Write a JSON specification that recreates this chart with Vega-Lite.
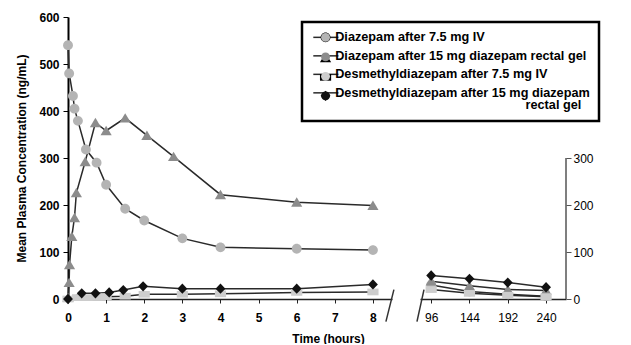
{
  "$schema": "https://vega.github.io/schema/vega-lite/v6.json",
  "background": "white",
  "padding": {"left": 15, "top": 11, "right": 5, "bottom": 0},
  "config": {
    "view": {"stroke": null},
    "font": "Liberation Sans",
    "axis": {"labelFont": "Liberation Sans", "titleFont": "Liberation Sans", "labelColor": "#000", "titleColor": "#000", "grid": false, "domainColor": "#222", "tickColor": "#222", "labelFontSize": 12, "titleFontSize": 12}
  },
  "datasets": {
    "pk": [
      {"s": "Diazepam after 7.5 mg IV", "t": 0, "c": 540},
      {"s": "Diazepam after 7.5 mg IV", "t": 0.03, "c": 480},
      {"s": "Diazepam after 7.5 mg IV", "t": 0.13, "c": 432},
      {"s": "Diazepam after 7.5 mg IV", "t": 0.17, "c": 405},
      {"s": "Diazepam after 7.5 mg IV", "t": 0.26, "c": 379},
      {"s": "Diazepam after 7.5 mg IV", "t": 0.47, "c": 318},
      {"s": "Diazepam after 7.5 mg IV", "t": 0.75, "c": 290},
      {"s": "Diazepam after 7.5 mg IV", "t": 1, "c": 243},
      {"s": "Diazepam after 7.5 mg IV", "t": 1.5, "c": 192},
      {"s": "Diazepam after 7.5 mg IV", "t": 2, "c": 167},
      {"s": "Diazepam after 7.5 mg IV", "t": 3, "c": 129},
      {"s": "Diazepam after 7.5 mg IV", "t": 4, "c": 110},
      {"s": "Diazepam after 7.5 mg IV", "t": 6, "c": 107},
      {"s": "Diazepam after 7.5 mg IV", "t": 8, "c": 104},
      {"s": "Diazepam after 7.5 mg IV", "t": 96, "c": 30},
      {"s": "Diazepam after 7.5 mg IV", "t": 144, "c": 16},
      {"s": "Diazepam after 7.5 mg IV", "t": 192, "c": 10},
      {"s": "Diazepam after 7.5 mg IV", "t": 240, "c": 6},
      {"s": "Diazepam after 15 mg diazepam rectal gel", "t": 0, "c": 3},
      {"s": "Diazepam after 15 mg diazepam rectal gel", "t": 0.03, "c": 35},
      {"s": "Diazepam after 15 mg diazepam rectal gel", "t": 0.04, "c": 73},
      {"s": "Diazepam after 15 mg diazepam rectal gel", "t": 0.1, "c": 133},
      {"s": "Diazepam after 15 mg diazepam rectal gel", "t": 0.17, "c": 173},
      {"s": "Diazepam after 15 mg diazepam rectal gel", "t": 0.22, "c": 226},
      {"s": "Diazepam after 15 mg diazepam rectal gel", "t": 0.45, "c": 292},
      {"s": "Diazepam after 15 mg diazepam rectal gel", "t": 0.72, "c": 375},
      {"s": "Diazepam after 15 mg diazepam rectal gel", "t": 1, "c": 358},
      {"s": "Diazepam after 15 mg diazepam rectal gel", "t": 1.5, "c": 385},
      {"s": "Diazepam after 15 mg diazepam rectal gel", "t": 2.07, "c": 348},
      {"s": "Diazepam after 15 mg diazepam rectal gel", "t": 2.77, "c": 303},
      {"s": "Diazepam after 15 mg diazepam rectal gel", "t": 4, "c": 222},
      {"s": "Diazepam after 15 mg diazepam rectal gel", "t": 6, "c": 206},
      {"s": "Diazepam after 15 mg diazepam rectal gel", "t": 8, "c": 199},
      {"s": "Diazepam after 15 mg diazepam rectal gel", "t": 96, "c": 38},
      {"s": "Diazepam after 15 mg diazepam rectal gel", "t": 144, "c": 28},
      {"s": "Diazepam after 15 mg diazepam rectal gel", "t": 192, "c": 20},
      {"s": "Diazepam after 15 mg diazepam rectal gel", "t": 240, "c": 18},
      {"s": "Desmethyldiazepam after 7.5 mg IV", "t": 0, "c": 0},
      {"s": "Desmethyldiazepam after 7.5 mg IV", "t": 0.25, "c": 3},
      {"s": "Desmethyldiazepam after 7.5 mg IV", "t": 0.5, "c": 3},
      {"s": "Desmethyldiazepam after 7.5 mg IV", "t": 0.75, "c": 4},
      {"s": "Desmethyldiazepam after 7.5 mg IV", "t": 1, "c": 5},
      {"s": "Desmethyldiazepam after 7.5 mg IV", "t": 1.5, "c": 6},
      {"s": "Desmethyldiazepam after 7.5 mg IV", "t": 2, "c": 10},
      {"s": "Desmethyldiazepam after 7.5 mg IV", "t": 3, "c": 10},
      {"s": "Desmethyldiazepam after 7.5 mg IV", "t": 4, "c": 11},
      {"s": "Desmethyldiazepam after 7.5 mg IV", "t": 6, "c": 14},
      {"s": "Desmethyldiazepam after 7.5 mg IV", "t": 8, "c": 15},
      {"s": "Desmethyldiazepam after 7.5 mg IV", "t": 96, "c": 20},
      {"s": "Desmethyldiazepam after 7.5 mg IV", "t": 144, "c": 12},
      {"s": "Desmethyldiazepam after 7.5 mg IV", "t": 192, "c": 8},
      {"s": "Desmethyldiazepam after 7.5 mg IV", "t": 240, "c": 5},
      {"s": "Desmethyldiazepam after 15 mg diazepam rectal gel", "t": 0, "c": 0},
      {"s": "Desmethyldiazepam after 15 mg diazepam rectal gel", "t": 0.36, "c": 12},
      {"s": "Desmethyldiazepam after 15 mg diazepam rectal gel", "t": 0.72, "c": 12},
      {"s": "Desmethyldiazepam after 15 mg diazepam rectal gel", "t": 1.08, "c": 14},
      {"s": "Desmethyldiazepam after 15 mg diazepam rectal gel", "t": 1.45, "c": 19},
      {"s": "Desmethyldiazepam after 15 mg diazepam rectal gel", "t": 1.97, "c": 27},
      {"s": "Desmethyldiazepam after 15 mg diazepam rectal gel", "t": 3, "c": 22},
      {"s": "Desmethyldiazepam after 15 mg diazepam rectal gel", "t": 4, "c": 22},
      {"s": "Desmethyldiazepam after 15 mg diazepam rectal gel", "t": 6, "c": 22},
      {"s": "Desmethyldiazepam after 15 mg diazepam rectal gel", "t": 8, "c": 31},
      {"s": "Desmethyldiazepam after 15 mg diazepam rectal gel", "t": 96, "c": 50},
      {"s": "Desmethyldiazepam after 15 mg diazepam rectal gel", "t": 144, "c": 43},
      {"s": "Desmethyldiazepam after 15 mg diazepam rectal gel", "t": 192, "c": 35},
      {"s": "Desmethyldiazepam after 15 mg diazepam rectal gel", "t": 240, "c": 25}
    ]
  },
  "spacing": 28,
  "bounds": "flush",
  "hconcat": [
    {
      "width": 324,
      "height": 282,
      "layer": [
        {
          "data": {"name": "pk"},
          "transform": [{"filter": "datum.t <= 8"}],
          "mark": {"type": "line", "strokeWidth": 1.5},
          "encoding": {
            "x": {"field": "t", "type": "quantitative", "scale": {"domain": [0, 8.5], "nice": false},
              "axis": {"values": [0, 1, 2, 3, 4, 5, 6, 7, 8], "title": "Time (hours)", "titleFontWeight": "bold", "titleX": 260, "titleY": 34, "titleBaseline": "top", "labelFontWeight": "bold", "tickSize": 4, "labelPadding": 9, "domainWidth": 1.5, "labelFlush": false}},
            "y": {"field": "c", "type": "quantitative", "scale": {"domain": [0, 600], "nice": false},
              "axis": {"values": [0, 100, 200, 300, 400, 500, 600], "title": "Mean Plasma Concentration (ng/mL)", "titleFontWeight": "bold", "labelFontWeight": "bold", "tickSize": 5, "labelPadding": 4, "titlePadding": 10, "domainColor": "#000", "domainWidth": 2, "tickColor": "#000", "labelFlush": false}},
            "stroke": {"field": "s", "type": "nominal",
              "scale": {"domain": ["Diazepam after 7.5 mg IV", "Diazepam after 15 mg diazepam rectal gel", "Desmethyldiazepam after 7.5 mg IV", "Desmethyldiazepam after 15 mg diazepam rectal gel"], "range": ["#2a2a2a", "#2a2a2a", "#2a2a2a", "#2a2a2a"]},
              "legend": {"orient": "none", "legendX": 234, "legendY": 5, "title": null, "symbolType": "M-3,0H3", "symbolSize": 70, "symbolStrokeWidth": 1.5, "symbolOffset": 8.5, "strokeColor": "#000", "padding": 9, "labelFont": "Liberation Sans", "labelFontSize": 12.7, "labelFontWeight": "bold", "labelColor": "#000", "labelLimit": 400, "labelOffset": 3, "rowPadding": 4.5, "labelBaseline": "alphabetic",
                "labelExpr": "datum.label == 'Desmethyldiazepam after 15 mg diazepam rectal gel' ? ['Desmethyldiazepam after 15 mg diazepam', '\u200b\u00a0\u00a0\u00a0\u00a0\u00a0\u00a0\u00a0\u00a0\u00a0\u00a0\u00a0\u00a0\u00a0\u00a0\u00a0\u00a0\u00a0\u00a0\u00a0\u00a0\u00a0\u00a0\u00a0\u00a0\u00a0\u00a0\u00a0\u00a0\u00a0\u00a0\u00a0\u00a0\u00a0\u00a0\u00a0\u00a0\u00a0\u00a0\u00a0\u00a0\u00a0\u00a0\u00a0\u00a0\u00a0\u00a0\u00a0\u00a0\u00a0\u00a0\u00a0\u00a0\u00a0\u00a0rectal gel'] : datum.label",
                "encode": {"labels": {"update": {"dy": {"value": 4}, "lineHeight": {"value": 12}}}, "legend": {"update": {"strokeWidth": {"value": 2.5}}}}}}
          }
        },
        {
          "data": {"name": "pk"},
          "transform": [{"filter": "datum.t <= 8"}],
          "mark": {"type": "point", "filled": true, "size": 80, "opacity": 1, "strokeWidth": 0},
          "encoding": {
            "x": {"field": "t", "type": "quantitative"},
            "y": {"field": "c", "type": "quantitative"},
            "fill": {"field": "s", "type": "nominal", "sort": ["Diazepam after 7.5 mg IV", "Diazepam after 15 mg diazepam rectal gel", "Desmethyldiazepam after 7.5 mg IV", "Desmethyldiazepam after 15 mg diazepam rectal gel"],
              "scale": {"range": ["#b4b4b4", "#8c8c8c", "#cdcdcd", "#111111"]},
              "legend": {"orient": "none", "legendX": 234, "legendY": 5, "title": null, "symbolSize": 80, "symbolStrokeWidth": 0, "symbolOffset": 8.2, "padding": 9, "labelFont": "Liberation Sans", "labelFontSize": 12.7, "labelFontWeight": "bold", "labelOpacity": 0, "labelLimit": 400, "labelOffset": 3, "rowPadding": 4.5, "labelBaseline": "alphabetic", "encode": {"labels": {"update": {"dy": {"value": 4}}}}}},
            "shape": {"field": "s", "type": "nominal", "sort": ["Diazepam after 7.5 mg IV", "Diazepam after 15 mg diazepam rectal gel", "Desmethyldiazepam after 7.5 mg IV", "Desmethyldiazepam after 15 mg diazepam rectal gel"],
              "scale": {"range": ["M1.1,0A1.1,1.1,0,1,1,-1.1,0A1.1,1.1,0,1,1,1.1,0Z", "M0,-1.1L1.25,1L-1.25,1Z", "M-1.25,-0.75H1.25V0.75H-1.25Z", "M0,-1.15L1.1,0L0,1.15L-1.1,0Z"]},
              "legend": {"orient": "none", "legendX": 234, "legendY": 5, "title": null, "symbolSize": 80, "symbolStrokeWidth": 0, "symbolOffset": 8.2, "padding": 9, "labelFont": "Liberation Sans", "labelFontSize": 12.7, "labelFontWeight": "bold", "labelOpacity": 0, "labelLimit": 400, "labelOffset": 3, "rowPadding": 4.5, "labelBaseline": "alphabetic", "encode": {"labels": {"update": {"dy": {"value": 4}}}}}}
          }
        },
        {
          "data": {"values": [{}]},
          "mark": {"type": "rule", "color": "#333", "strokeWidth": 1.5, "clip": false},
          "encoding": {"x": {"datum": 8.34}, "x2": {"datum": 8.55}, "y": {"datum": -48}, "y2": {"datum": 20}}
        }
      ]
    },
    {
      "width": 146,
      "height": 282,
      "layer": [
        {
          "data": {"name": "pk"},
          "transform": [{"filter": "datum.t > 8"}],
          "mark": {"type": "line", "strokeWidth": 1.5},
          "encoding": {
            "x": {"field": "t", "type": "quantitative", "scale": {"domain": [82, 265], "nice": false},
              "axis": {"values": [96, 144, 192, 240], "title": null, "tickSize": 4, "labelPadding": 9, "domainWidth": 1.5}},
            "y": {"field": "c", "type": "quantitative", "scale": {"domain": [0, 600], "nice": false},
              "axis": {"orient": "right", "values": [0, 100, 200, 300], "title": null, "domain": false, "tickSize": 5, "labelPadding": 2, "tickColor": "#555", "labelFlush": false}},
            "stroke": {"field": "s", "type": "nominal",
              "scale": {"domain": ["Diazepam after 7.5 mg IV", "Diazepam after 15 mg diazepam rectal gel", "Desmethyldiazepam after 7.5 mg IV", "Desmethyldiazepam after 15 mg diazepam rectal gel"], "range": ["#2a2a2a", "#2a2a2a", "#2a2a2a", "#2a2a2a"]}}
          }
        },
        {
          "data": {"name": "pk"},
          "transform": [{"filter": "datum.t > 8"}],
          "mark": {"type": "point", "filled": true, "size": 80, "opacity": 1, "strokeWidth": 0},
          "encoding": {
            "x": {"field": "t", "type": "quantitative"},
            "y": {"field": "c", "type": "quantitative"},
            "fill": {"field": "s", "type": "nominal", "sort": ["Diazepam after 7.5 mg IV", "Diazepam after 15 mg diazepam rectal gel", "Desmethyldiazepam after 7.5 mg IV", "Desmethyldiazepam after 15 mg diazepam rectal gel"],
              "scale": {"range": ["#b4b4b4", "#8c8c8c", "#cdcdcd", "#111111"]}},
            "shape": {"field": "s", "type": "nominal", "sort": ["Diazepam after 7.5 mg IV", "Diazepam after 15 mg diazepam rectal gel", "Desmethyldiazepam after 7.5 mg IV", "Desmethyldiazepam after 15 mg diazepam rectal gel"],
              "scale": {"range": ["M1.1,0A1.1,1.1,0,1,1,-1.1,0A1.1,1.1,0,1,1,1.1,0Z", "M0,-1.1L1.25,1L-1.25,1Z", "M-1.25,-0.75H1.25V0.75H-1.25Z", "M0,-1.15L1.1,0L0,1.15L-1.1,0Z"]}}
          }
        },
        {
          "data": {"values": [{}]},
          "mark": {"type": "rule", "color": "#333", "strokeWidth": 1.5, "clip": false},
          "encoding": {"x": {"datum": 78.2}, "x2": {"datum": 87}, "y": {"datum": -48}, "y2": {"datum": 20}}
        },
        {
          "data": {"values": [{}]},
          "mark": {"type": "rule", "color": "#555", "strokeWidth": 1.5},
          "encoding": {"x": {"datum": 265}, "y": {"datum": 0}, "y2": {"datum": 300}}
        }
      ]
    }
  ]
}
